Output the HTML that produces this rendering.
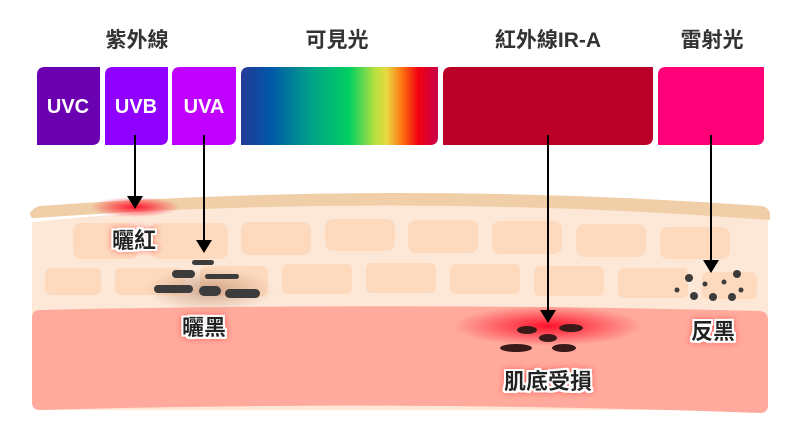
<!DOCTYPE html>
<html><head><meta charset="utf-8"><style>
html,body{margin:0;padding:0;background:#fff;}
svg{display:block}
text{font-family:"Liberation Sans","Noto Sans CJK TC",sans-serif;font-weight:bold;}
</style></head><body>
<svg width="800" height="439" viewBox="0 0 800 439" xmlns="http://www.w3.org/2000/svg">
<defs>
<linearGradient id="vis" x1="0" x2="1" y1="0" y2="0">
<stop offset="0" stop-color="#253a96"/><stop offset="0.15" stop-color="#0057a8"/>
<stop offset="0.35" stop-color="#00a08a"/><stop offset="0.55" stop-color="#00d060"/>
<stop offset="0.68" stop-color="#b8e040"/><stop offset="0.74" stop-color="#e8d840"/>
<stop offset="0.82" stop-color="#ff7010"/><stop offset="0.9" stop-color="#f00010"/>
<stop offset="1" stop-color="#c8004a"/></linearGradient>
<radialGradient id="redglow" cx="0.5" cy="0.5" r="0.5"><stop offset="0" stop-color="#ff0020" stop-opacity="0.9"/><stop offset="1" stop-color="#ff0020" stop-opacity="0"/></radialGradient>
<radialGradient id="brglow" cx="0.5" cy="0.5" r="0.5"><stop offset="0" stop-color="#c09070" stop-opacity="0.7"/><stop offset="1" stop-color="#c09070" stop-opacity="0"/></radialGradient>
<filter id="glow" x="-30%" y="-50%" width="160%" height="200%"><feMorphology in="SourceAlpha" operator="dilate" radius="2" result="d"/><feFlood flood-color="#fff"/><feComposite in2="d" operator="in" result="w"/><feGaussianBlur in="d" stdDeviation="3" result="b"/><feFlood flood-color="#ff3030" flood-opacity="0.6"/><feComposite in2="b" operator="in" result="r"/><feMerge><feMergeNode in="r"/><feMergeNode in="w"/><feMergeNode in="SourceGraphic"/></feMerge></filter>
</defs>
<g font-size="21" fill="#333" text-anchor="middle">
<text x="137" y="47">紫外線</text>
<text x="337" y="47">可見光</text>
<text x="548" y="47">紅外線IR-A</text>
<text x="712" y="47">雷射光</text>
</g>
<path d="M45 67H100V137Q100 145 92 145H37V75Q37 67 45 67Z" fill="#6a00b0"/>
<path d="M113 67H168V137Q168 145 160 145H105V75Q105 67 113 67Z" fill="#9000ff"/>
<path d="M180 67H236V137Q236 145 228 145H172V75Q172 67 180 67Z" fill="#c000ff"/>
<path d="M249 67H438V137Q438 145 430 145H241V75Q241 67 249 67Z" fill="url(#vis)"/>
<path d="M451 67H653V137Q653 145 645 145H443V75Q443 67 451 67Z" fill="#bb0028"/>
<path d="M666 67H764V137Q764 145 756 145H658V75Q658 67 666 67Z" fill="#ff0078"/>
<g font-size="20" fill="#fff" text-anchor="middle" font-weight="bold">
<text x="68" y="113">UVC</text><text x="136" y="113">UVB</text><text x="204" y="113">UVA</text>
</g>
<path d="M32 228V402Q32 410 40 410H762Q768 410 768 402V218Q400 185 32 222Z" fill="#fde8d8"/>
<path d="M32 318Q32 310 40 310Q400 302 760 311Q768 312 768 320V405Q768 413 760 413Q400 400 40 410Q32 410 32 402Z" fill="#ffaa9c"/>
<path d="M30 213Q34 207 40 206Q400 180 762 206Q770 208 770 215V220Q400 192 36 218Q30 219 30 213Z" fill="#f0cfa8"/>
<g fill="#fdd9bd">
<rect x="73" y="223" width="65" height="36" rx="8"/><rect x="241" y="222" width="70" height="33" rx="8"/>
<rect x="325" y="219" width="70" height="32" rx="8"/><rect x="408" y="220" width="70" height="33" rx="8"/>
<rect x="492" y="221" width="70" height="33" rx="8"/><rect x="576" y="224" width="70" height="33" rx="8"/>
<rect x="660" y="227" width="70" height="32" rx="8"/><rect x="150" y="223" width="78" height="36" rx="8"/>
<rect x="45" y="268" width="56" height="27" rx="6"/><rect x="115" y="268" width="70" height="27" rx="6"/>
<rect x="200" y="266" width="68" height="30" rx="6"/><rect x="282" y="264" width="70" height="30" rx="6"/>
<rect x="366" y="263" width="70" height="30" rx="6"/><rect x="450" y="264" width="70" height="30" rx="6"/>
<rect x="534" y="266" width="70" height="30" rx="6"/><rect x="618" y="268" width="70" height="30" rx="6"/>
<rect x="702" y="272" width="55" height="27" rx="6"/>
</g>
<ellipse cx="135" cy="207" rx="45" ry="10" fill="url(#redglow)"/>
<ellipse cx="210" cy="290" rx="65" ry="22" fill="url(#brglow)"/>
<ellipse cx="548" cy="326" rx="95" ry="20" fill="url(#redglow)"/>
<g fill="#3c3c3c">
<rect x="192" y="260" width="22" height="5" rx="2.5"/><rect x="172" y="270" width="23" height="8" rx="4"/>
<rect x="205" y="274" width="34" height="5" rx="2.5"/><rect x="154" y="285" width="39" height="8" rx="4"/>
<rect x="199" y="286" width="22" height="10" rx="5"/><rect x="225" y="289" width="35" height="9" rx="4.5"/>
<circle cx="689" cy="278" r="4"/><circle cx="737" cy="274" r="4"/><circle cx="677" cy="290" r="2.5"/>
<circle cx="705" cy="284" r="2.5"/><circle cx="724" cy="282" r="2.5"/><circle cx="741" cy="290" r="2.5"/>
<circle cx="694" cy="296" r="4"/><circle cx="713" cy="297" r="4"/><circle cx="732" cy="297" r="4"/>
</g>
<g fill="#3a1a18">
<ellipse cx="527" cy="330" rx="10" ry="4"/><ellipse cx="571" cy="328" rx="12" ry="4"/>
<ellipse cx="548" cy="338" rx="9" ry="4"/><ellipse cx="516" cy="348" rx="16" ry="4"/>
<ellipse cx="564" cy="348" rx="12" ry="4"/>
</g>
<g stroke="#000" stroke-width="2"><line x1="135" y1="135" x2="135" y2="198"/><line x1="204" y1="135" x2="204" y2="242"/>
<line x1="548" y1="135" x2="548" y2="312"/><line x1="711" y1="135" x2="711" y2="262"/></g>
<g fill="#000"><path d="M127 196H143L135 209Z"/><path d="M196 240H212L204 253Z"/>
<path d="M540 310H556L548 323Z"/><path d="M703 260H719L711 273Z"/></g>
<g font-size="22" fill="#222" text-anchor="middle" filter="url(#glow)">
<text x="134" y="248">曬紅</text><text x="204" y="335">曬黑</text>
<text x="548" y="389">肌底受損</text><text x="713" y="339">反黑</text>
</g>
</svg>
</body></html>
